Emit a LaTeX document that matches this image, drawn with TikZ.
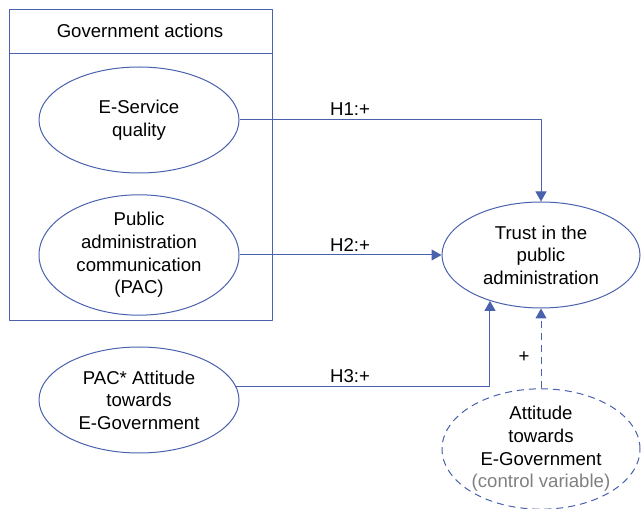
\documentclass[tikz,border=0pt]{standalone}
\usepackage{fontspec}
\setmainfont{Liberation Sans}
\usetikzlibrary{arrows.meta,shapes.geometric}
\definecolor{edgecol}{rgb}{0.29,0.38,0.68}
\definecolor{notecol}{rgb}{0.5,0.5,0.5}
\tikzset{
  construct/.style={ellipse,draw=edgecol,line width=1bp,inner sep=0pt,
    minimum width=200bp,minimum height=106bp,align=center},
  control/.style={construct,dash pattern=on 7bp off 5bp,minimum height=118bp},
  hyplabel/.style={inner sep=0pt},
}
\begin{document}
\begin{tikzpicture}[>={Triangle[length=10bp,width=11bp]},line join=bevel,
  font=\fontsize{18.6bp}{22.6bp}\selectfont]
  \pgfsetlinewidth{1bp}
  \useasboundingbox (0bp,0bp) rectangle (643bp,509bp);
%%
\pgfsetcolor{black}
  % Group: Government actions
  \draw [edgecol] (9bp,188bp) rectangle (272bp,499bp);
  \draw [edgecol] (9bp,455bp) -- (272bp,455bp);
  \node (group) at (140bp,478bp) {Government actions};
  % Node: esq
  \node [construct] (esq) at (139bp,389bp) {E-Service\\quality};
  % Node: pac
  \node [construct] (pac) at (139bp,254bp) {Public\\administration\\communication\\(PAC)};
  % Node: pacatt
  \node [construct] (pacatt) at (139bp,109bp) {PAC* Attitude\\towards\\E-Government};
  % Node: trust
  \node [construct,minimum width=198bp] (trust) at (541bp,254bp) {Trust in the\\public\\administration};
  % Node: att
  \node [control,minimum width=198bp] (att) at (541bp,60bp) {Attitude\\towards\\E-Government\\\textcolor{notecol}{(control variable)}};
  % Edge: esq -> trust
  \draw [->,edgecol] (esq.east) -| (trust.north);
  \node [hyplabel] (h1) at (350bp,400bp) {H1:+};
  % Edge: pac -> trust
  \draw [->,edgecol] (pac.east) -- (trust.west);
  \node [hyplabel] (h2) at (350bp,264bp) {H2:+};
  % Edge: pacatt -> trust
  \draw [->,edgecol] (pacatt.8.3) -| (trust.222.6);
  \node [hyplabel] (h3) at (350bp,133bp) {H3:+};
  % Edge: att -> trust
  \draw [->,edgecol,dash pattern=on 7bp off 5bp] (att.north) -- (trust.south);
  \node [hyplabel] (hc) at (524bp,152bp) {+};
%
\end{tikzpicture}
\end{document}
